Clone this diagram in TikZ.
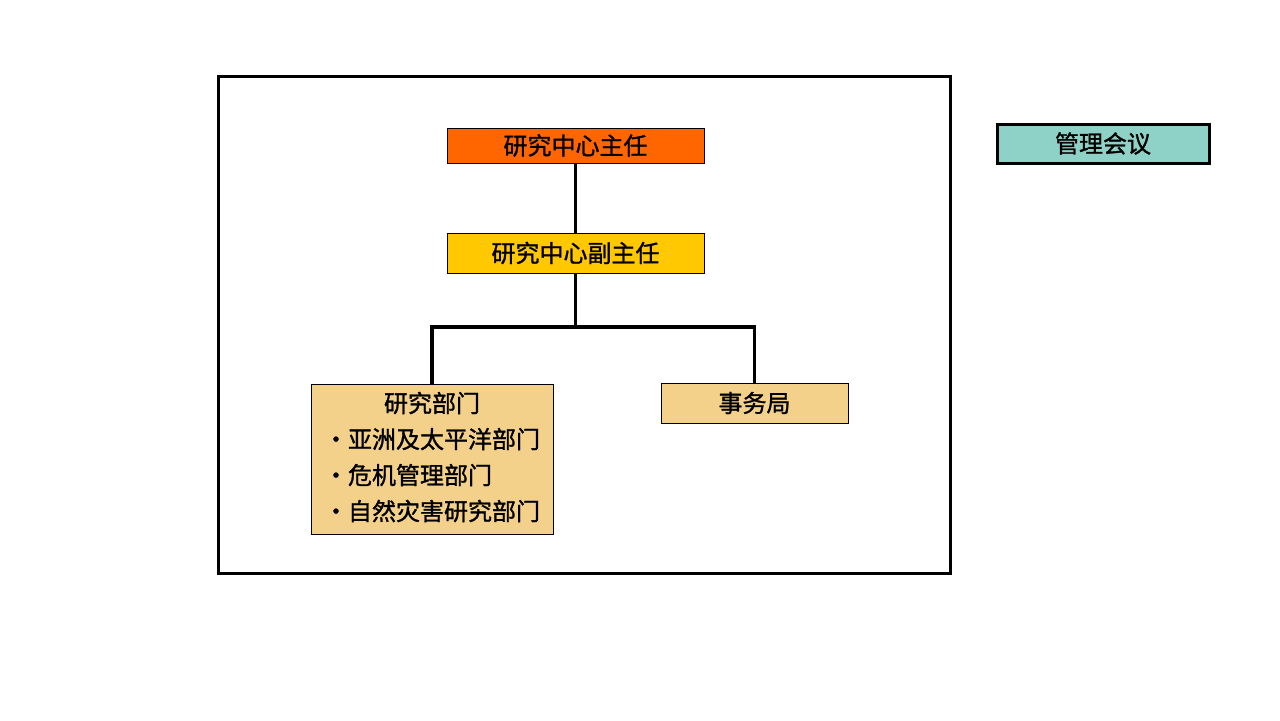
\documentclass[tikz,border=0pt]{standalone}
\usepackage{fontspec}
\newfontfamily\cjk{Noto Sans CJK SC}[FakeBold=1.2]
\usetikzlibrary{positioning}
\definecolor{chieforange}{HTML}{FF6600}
\definecolor{deputyyellow}{HTML}{FFC800}
\definecolor{unittan}{HTML}{F3D18A}
\definecolor{councilteal}{HTML}{8ED1C6}

\begin{document}
\begin{tikzpicture}[x=0.5pt, y=-0.5pt,
		box/.style={draw=black, line width=0.5pt, inner sep=0pt, outer sep=0pt,
			font=\cjk\fontsize{12}{18}\selectfont},
		link/.style={line width=1.75pt}]
			%%%%% START %%%%%
			
			\useasboundingbox (0, 0) rectangle (1280, 720);
			\fill[white] (0, 0) rectangle (1280, 720);
			
			\draw[line width=1.5pt] (218, 76) rectangle (950, 573);
			
			\node[box, fill=chieforange, minimum width=128.5pt, minimum height=17.5pt] (chief) at (575.5, 145.5) {研究中心主任};
			\node[box, fill=deputyyellow, minimum width=128.5pt, minimum height=20pt] (deputy) at (575.5, 253) {研究中心副主任};
			
			\node[box, fill=unittan, minimum width=121pt, minimum height=75pt] (research) at (432, 459)
				{\begin{tabular}{@{}l@{}}
					\multicolumn{1}{@{}c@{}}{研究部门}\\
					・亚洲及太平洋部门\\
					・危机管理部门\\
					・自然灾害研究部门
				\end{tabular}};
			\node[box, fill=unittan, minimum width=93.5pt, minimum height=20pt] (office) at (754.5, 403) {事务局};
			
			\node[box, line width=1.5pt, fill=councilteal, minimum width=106pt, minimum height=19.5pt] (council) at (1103, 143.5) {管理会议};
			
			\coordinate (fork) at (575.5, 327);
			\draw[link] (chief.south) -- (deputy.north);
			\draw[link] (deputy.south) -- (fork);
			\draw[link] (fork) -| (research.north);
			\draw[link] (fork) -| (office.north);
			
			%%%%% END %%%%%
\end{tikzpicture}
\end{document}
